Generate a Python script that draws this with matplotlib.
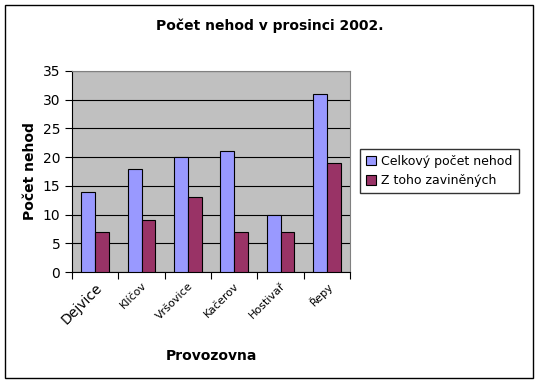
import matplotlib.pyplot as plt
import numpy as np
from matplotlib.patches import Rectangle

categories = ['Dejvice', 'Klíčov', 'Vršovice', 'Kačerov', 'Hostivař', 'Řepy']
celkem = [14, 18, 20, 21, 10, 31]
zavinenych = [7, 9, 13, 7, 7, 19]

fig = plt.figure(figsize=(5.4, 3.85), dpi=100)
fig.patches.append(Rectangle((5 / 540, 1 - 378 / 385), 528 / 540, 373 / 385,
                             transform=fig.transFigure, fill=False,
                             edgecolor='black', linewidth=1))

ax = fig.add_axes([72 / 540, 1 - 272 / 385, 278 / 540, 201 / 385])
ax.set_facecolor('#C0C0C0')

x = np.arange(len(categories))
w = 0.3
ax.bar(x - w / 2, celkem, w, color='#9999FF', edgecolor='black', linewidth=0.8,
       label='Celkový počet nehod', zorder=3)
ax.bar(x + w / 2, zavinenych, w, color='#993366', edgecolor='black', linewidth=0.8,
       label='Z toho zaviněných', zorder=3)

ax.set_xlim(-0.5, len(categories) - 0.5)
ax.set_ylim(0, 35)
ax.set_yticks(range(0, 36, 5))
ax.yaxis.grid(True, color='black', linewidth=0.8, zorder=1)
ax.set_xticks(np.arange(-0.5, len(categories), 1), minor=False)
ax.set_xticklabels([])
ax.set_xticks(x, minor=True)
ax.set_xticklabels(categories, minor=True, rotation=45, ha='right',
                   rotation_mode='anchor', fontsize=8)
ax.tick_params(axis='x', which='minor', length=0, pad=6)
ax.tick_params(axis='x', which='major', length=5, direction='out')
ax.tick_params(axis='y', length=5, labelsize=10)
ax.get_xticklabels(minor=True)[0].set_fontsize(10)

for s in ['top', 'right']:
    ax.spines[s].set_color('#808080')
ax.spines['left'].set_color('black')
ax.spines['bottom'].set_color('black')

ax.set_ylabel('Počet nehod', fontsize=10, fontweight='bold', labelpad=4)
ax.set_xlabel('Provozovna', fontsize=10, fontweight='bold', labelpad=16)
fig.text(0.5, 1 - 26 / 385, 'Počet nehod v prosinci 2002.', fontsize=10,
         fontweight='bold', ha='center', va='center')

leg = ax.legend(loc='center left', bbox_to_anchor=(360 / 540, 1 - 171 / 385),
                bbox_transform=fig.transFigure, frameon=True, fancybox=False,
                fontsize=9, handlelength=0.8, handleheight=0.8,
                handletextpad=0.4, borderpad=0.5, labelspacing=0.5,
                borderaxespad=0)
leg.get_frame().set_edgecolor('black')
leg.get_frame().set_linewidth(1)

fig.savefig('out.png', dpi=100)
